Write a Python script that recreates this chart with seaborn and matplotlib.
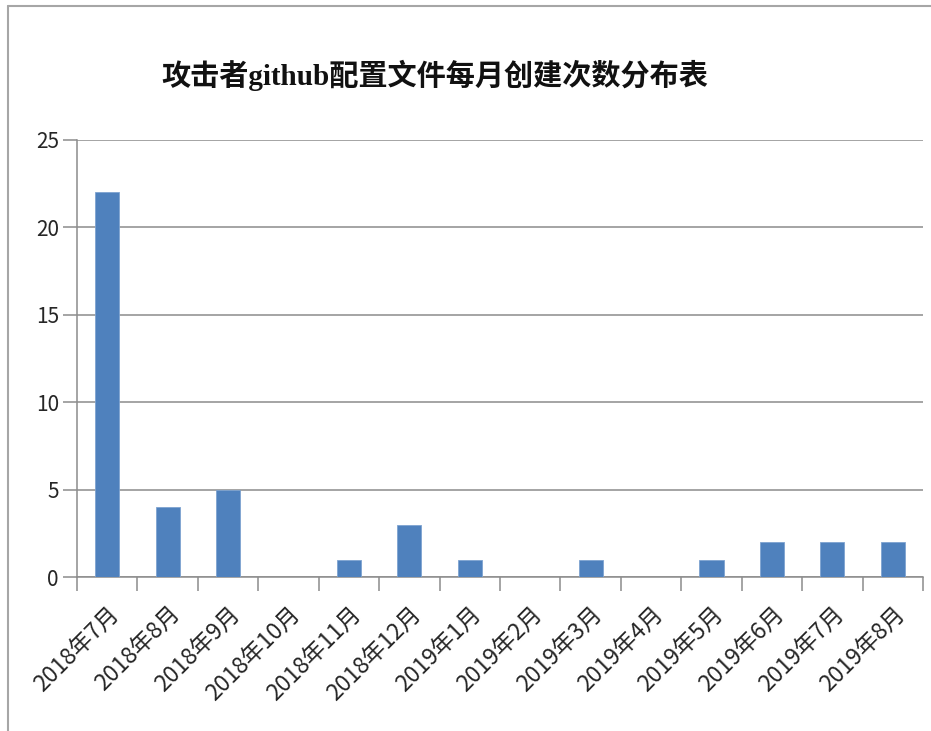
import matplotlib
matplotlib.use('Agg')
import matplotlib.pyplot as plt
import seaborn as sns
import pandas as pd
from matplotlib.lines import Line2D
from matplotlib.ticker import FixedLocator

# 数据
months = ["2018年7月", "2018年8月", "2018年9月", "2018年10月", "2018年11月", "2018年12月",
          "2019年1月", "2019年2月", "2019年3月", "2019年4月", "2019年5月", "2019年6月",
          "2019年7月", "2019年8月"]
counts = [22, 4, 5, 0, 1, 3, 1, 0, 1, 0, 1, 2, 2, 2]
title = "攻击者github配置文件每月创建次数分布表"

sns.set_style("white")
plt.rcParams['font.family'] = ['Noto Sans CJK SC', 'DejaVu Sans']

df = pd.DataFrame({"月份": months, "次数": counts})

fig = plt.figure(figsize=(9.31, 7.31), dpi=100)
ax = fig.add_axes([77 / 931, 1 - 577 / 731, (923 - 77) / 931, (577 - 140) / 731])

sns.barplot(data=df, x="月份", y="次数", ax=ax, color="#4F81BD", width=0.4,
            saturation=1, edgecolor="#7EA3D0", linewidth=0.6, zorder=3)

ax.set_ylim(0, 25)
ax.set_xlim(-0.5, len(months) - 0.5)
ax.set_yticks([0, 5, 10, 15, 20, 25])
ax.yaxis.grid(True, color="#8C8C8C", linewidth=1.1, zorder=0)
ax.set_axisbelow(True)

for s in ["top", "right"]:
    ax.spines[s].set_visible(False)
for s in ["left", "bottom"]:
    ax.spines[s].set_color("#8C8C8C")
    ax.spines[s].set_linewidth(1.1)

ax.set_xlabel("")
ax.set_ylabel("")

# y 轴刻度
ax.tick_params(axis="y", direction="out", length=10, width=1.1, color="#8C8C8C",
               labelsize=15, pad=3, left=True)
# x 轴：标签在中心，刻度线在分界
ax.tick_params(axis="x", which="major", length=0, labelsize=16.5, pad=18)
ax.xaxis.set_minor_locator(FixedLocator([i - 0.5 for i in range(len(months) + 1)]))
ax.tick_params(axis="x", which="minor", direction="out", length=10, width=1.1,
               color="#8C8C8C", bottom=True)
plt.setp(ax.get_xticklabels(), rotation=45, ha="right", rotation_mode="anchor")

fig.text(435 / 931, 1 - 75 / 731, title, ha="center", va="center",
         fontsize=21, fontweight="bold", color="#111111",
         family=['Liberation Serif', 'Noto Sans CJK SC'])

# 外框
fig.add_artist(Line2D([7.5 / 931, 7.5 / 931], [0, 1 - 5.5 / 731], transform=fig.transFigure,
                      color="#A6A6A6", linewidth=1.5))
fig.add_artist(Line2D([7.5 / 931, 1], [1 - 5.5 / 731, 1 - 5.5 / 731], transform=fig.transFigure,
                      color="#A6A6A6", linewidth=1.5))

fig.savefig("out.png", dpi=100)
